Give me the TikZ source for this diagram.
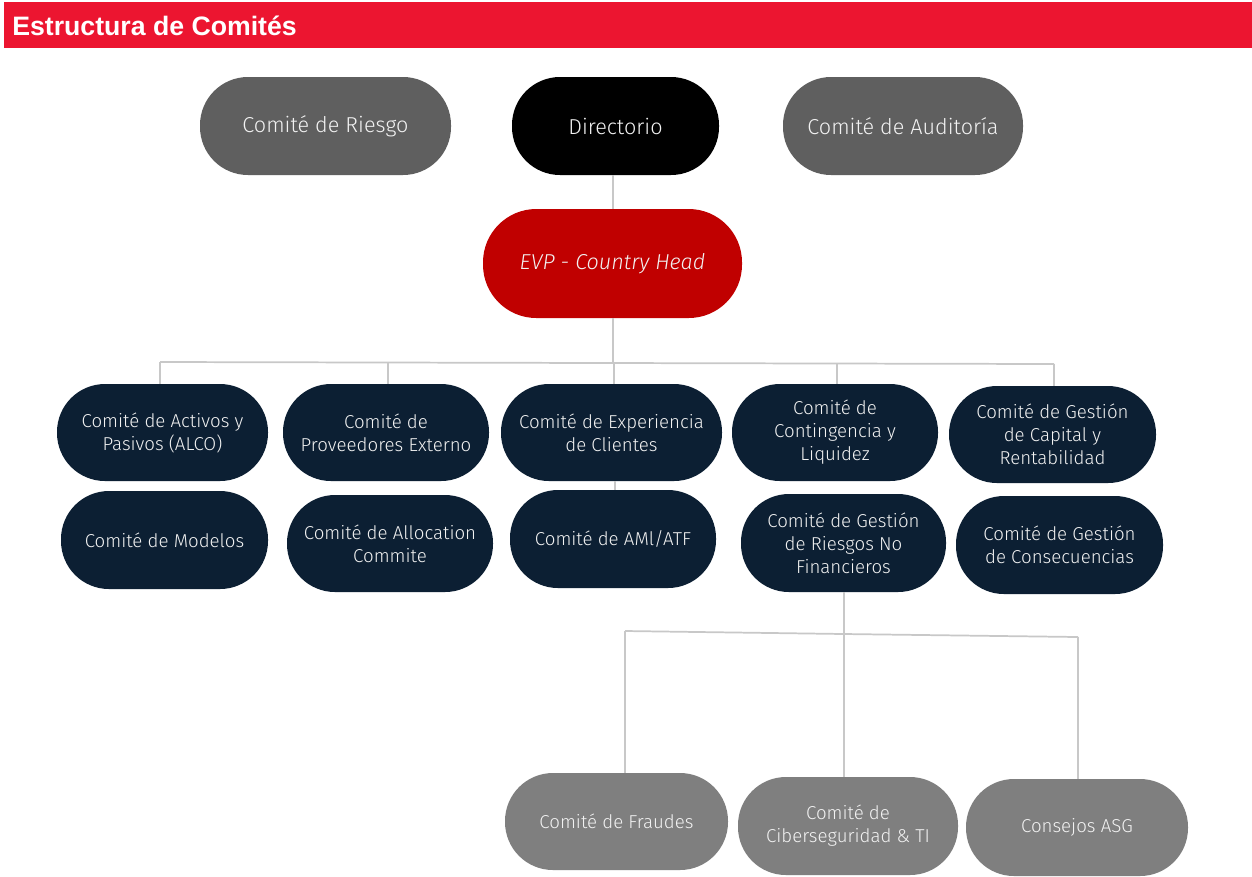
\documentclass[tikz,border=0pt]{standalone}
\usepackage{fontspec}
\setmainfont{Fira Sans}[UprightFont=* Light, ItalicFont=* Light Italic, BoldFont=* Medium]
\newfontfamily\titlefont{Liberation Sans}
\definecolor{titlered}{HTML}{EC1530}
\definecolor{evpred}{HTML}{C00000}
\definecolor{navy}{HTML}{0C1F33}
\definecolor{dgray}{HTML}{5F5F5F}
\definecolor{mgray}{HTML}{7F7F7F}
\definecolor{linegray}{HTML}{C8C8C8}
\definecolor{txt}{HTML}{F2F2F2}
\begin{document}
\begin{tikzpicture}[x=0.75pt,y=-0.75pt,
  pill/.style 2 args={draw=none, rounded corners=36pt, inner sep=0pt,
    minimum width=#1*0.75pt, minimum height=#2*0.75pt, align=center, text=txt},
  topfont/.style={font=\fontsize{16.2}{19}\selectfont},
  midfont/.style={font=\fontsize{14}{17.3}\selectfont},
  conn/.style={draw=linegray, line width=1.3pt},
  topgray/.style={fill=dgray, topfont},
  navybox/.style={fill=navy, midfont},
  botgray/.style={fill=mgray, midfont}]
\useasboundingbox (0,0) rectangle (1252,876);
\fill[white] (0,0) rectangle (1252,876);
% title bar
\node[fill=titlered, minimum width=1248*0.75pt, minimum height=46*0.75pt, inner sep=0pt, anchor=north west] (bar) at (4,2) {};
\node[anchor=west, text=white, inner sep=0pt, font=\titlefont\bfseries\fontsize{20}{23}\selectfont] (title) at (12,26) {Estructura de Comités};
% top row
\node[pill={251}{98}, topgray] (riesgo) at (325.5,126) {Comité de Riesgo};
\node[pill={207}{98}, fill=black, topfont] (dir) at (615.5,126) {Directorio};
\node[pill={240}{98}, topgray] (audit) at (903,126) {Comité de Auditoría};
\node[pill={259}{109}, fill=evpred, rounded corners=40pt, font=\fontsize{16.2}{19}\selectfont\itshape] (evp) at (612.5,263.5) {EVP - Country Head};
% row 1
\node[pill={211}{97}, navybox] (alco) at (162.5,432.5) {Comité de Activos y\\Pasivos (ALCO)};
\node[pill={206}{97}, navybox] (prov) at (386,432.5) {Comité de\\Proveedores Externo};
\node[pill={221}{97}, navybox] (exp) at (611.5,432.5) {Comité de Experiencia\\de Clientes};
\node[pill={206}{97}, navybox] (cont) at (835,432.5) {Comité de\\Contingencia y\\Liquidez};
\node[pill={207}{97}, navybox] (cap) at (1052.5,434.5) {Comité de Gestión\\de Capital y\\Rentabilidad};
% row 2
\node[pill={207}{98}, navybox] (mod) at (164.5,540) {Comité de Modelos};
\node[pill={206}{97}, navybox] (alloc) at (390,543.5) {Comité de Allocation\\Commite};
\node[pill={206}{98}, navybox] (aml) at (613,539) {Comité de AMl/ATF};
\node[pill={205}{98}, navybox] (grnf) at (843.5,543) {Comité de Gestión\\de Riesgos No\\Financieros};
\node[pill={207}{98}, navybox] (cons) at (1059.5,545) {Comité de Gestión\\de Consecuencias};
% bottom row
\node[pill={223}{97}, botgray] (fraud) at (616.5,821.5) {Comité de Fraudes};
\node[pill={220}{98}, botgray] (ciber) at (848,826) {Comité de\\Ciberseguridad \& TI};
\node[pill={222}{97}, botgray] (asg) at (1077,827.5) {Consejos ASG};
% connectors
\coordinate (b0) at (613,363);
\coordinate (bl) at (160,362);
\coordinate (br) at (1054,364);
\draw[conn] (dir.south -| 613,0) -- (evp.north -| 613,0);
\draw[conn] (evp.south -| 613,0) -- (b0);
\draw[conn] (bl) -- (br);
\draw[conn] (bl) -- (alco.north -| bl);
\draw[conn] (388,362) -- (prov.north -| 388,0);
\draw[conn] (614,363) -- (exp.north -| 614,0);
\draw[conn] (837,364) -- (cont.north -| 837,0);
\draw[conn] (br) -- (cap.north -| br);
\draw[conn] (exp.south -| 615,0) -- (aml.north -| 615,0);
\coordinate (c0) at (844,634);
\coordinate (cl) at (625,631);
\coordinate (cr) at (1078,637);
\draw[conn] (grnf.south -| 844,0) -- (c0);
\draw[conn] (cl) -- (c0) -- (cr);
\draw[conn] (cl) -- (fraud.north -| cl);
\draw[conn] (c0) -- (ciber.north -| c0);
\draw[conn] (cr) -- (asg.north -| cr);
\end{tikzpicture}
\end{document}
